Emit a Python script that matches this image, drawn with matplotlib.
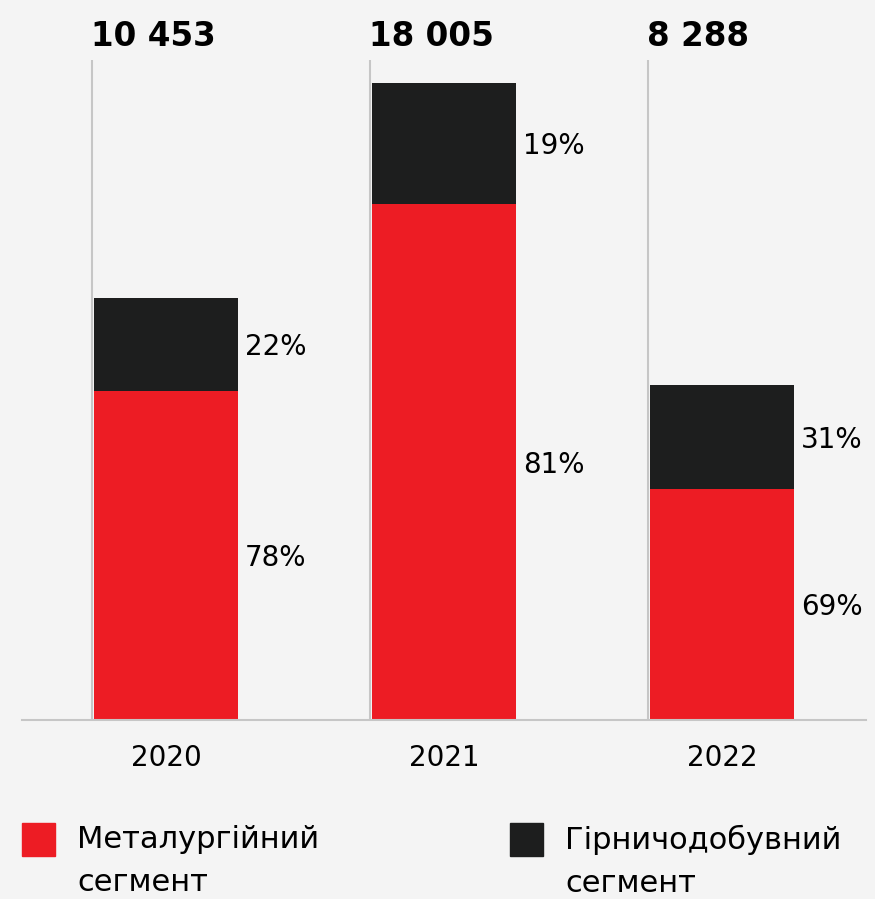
import matplotlib
matplotlib.use("Agg")
import matplotlib.pyplot as plt
import matplotlib.transforms as mtransforms
from matplotlib.patches import Rectangle

# data
years = ['2020', '2021', '2022']
totals = ['10 453', '18 005', '8 288']
# drawn bar heights (the 2021 bar is shortened in the original picture)
bar_height = [10453, 15780, 8288]
metal_share = [78, 81, 69]
mining_share = [22, 19, 31]
legend_labels = ['Металургійний\nсегмент', 'Гірничодобувний\nсегмент']

red = '#ed1c24'
black = '#1d1e1e'
bg = '#f4f4f4'

plt.rcParams['font.family'] = ['DejaVu Sans']

W, H = 875, 899
fig = plt.figure(figsize=(W / 100, H / 100), dpi=100, facecolor=bg)

# axes: baseline at y=720px, top at y=60px, from x=22 to x=866
ax = fig.add_axes([22 / W, 1 - 720 / H, (866 - 22) / W, (720 - 60) / H])
ax.set_facecolor(bg)

x = list(range(len(years)))
width = 144 / 278
metal = [h * s / 100 for h, s in zip(bar_height, metal_share)]
mining = [h * s / 100 for h, s in zip(bar_height, mining_share)]

ytop = 660 / 422 * 10453
ax.set_ylim(0, ytop)
ax.set_xlim((22 - 166) / 278, (866 - 166) / 278)

# thin grey guides at the left of each bar
ax.vlines([i - width / 2 - 0.006 for i in x], 0, ytop, color='#c6c6c6', lw=1.5, zorder=1)

ax.bar(x, metal, width, color=red, zorder=2)
ax.bar(x, mining, width, bottom=metal, color=black, zorder=2)

for i in x:
    ax.annotate(f'{metal_share[i]}%', (i + width / 2, metal[i] / 2),
                xytext=(5, -2), textcoords='offset points',
                va='center', ha='left', fontsize=20, color='black')
    ax.annotate(f'{mining_share[i]}%', (i + width / 2, metal[i] + mining[i] / 2),
                xytext=(5, -2), textcoords='offset points',
                va='center', ha='left', fontsize=20, color='black')

trans = mtransforms.blended_transform_factory(ax.transData, fig.transFigure)
for i in x:
    ax.text(i - width / 2 - 0.01, 1 - 46 / H, totals[i], transform=trans,
            ha='left', va='baseline', fontsize=23.5, fontweight='bold', color='black')

ax.set_yticks([])
ax.set_xticks(x)
ax.set_xticklabels(years, fontsize=20)
ax.tick_params(axis='x', length=0, pad=17)
for s in ['top', 'right', 'left']:
    ax.spines[s].set_visible(False)
ax.spines['bottom'].set_color('#c6c6c6')
ax.spines['bottom'].set_linewidth(1.5)

# legend
for px, col, lab in [(22, red, legend_labels[0]), (510, black, legend_labels[1])]:
    fig.patches.append(Rectangle((px / W, 1 - 856 / H), 33 / W, 33 / H,
                                 transform=fig.transFigure, color=col))
    fig.text((px + 55) / W, 1 - 825 / H, lab, ha='left', va='top',
             fontsize=22, color='black', linespacing=1.6)

fig.savefig('out.png', dpi=100, facecolor=bg)
